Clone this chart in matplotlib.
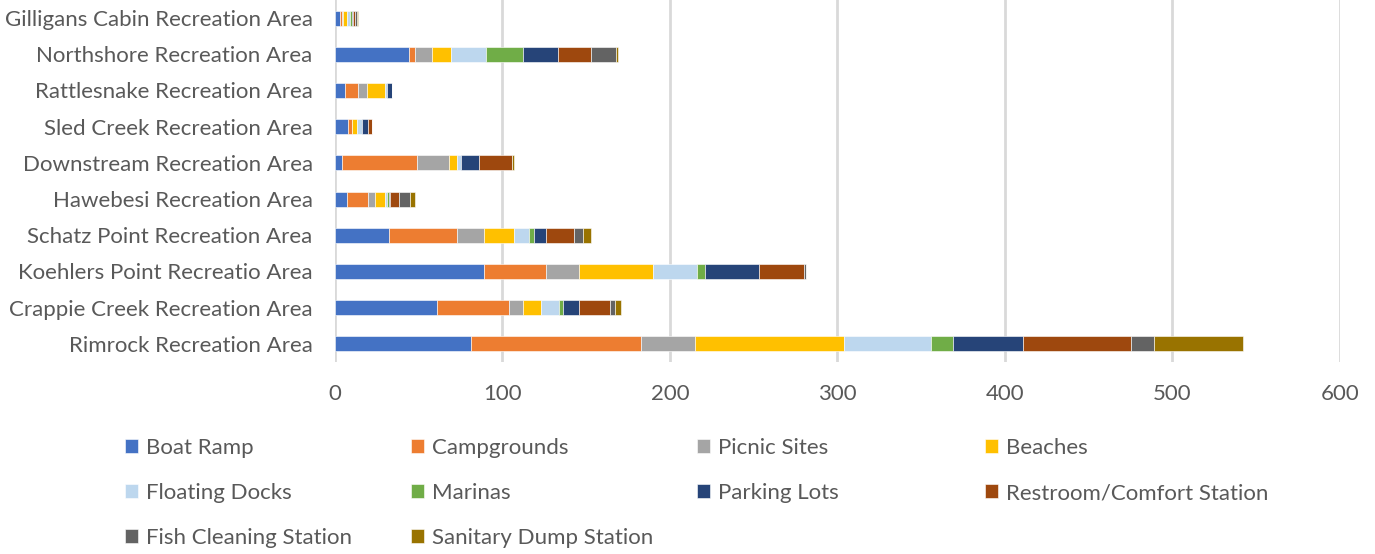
import matplotlib
matplotlib.use("Agg")
import matplotlib.pyplot as plt
import numpy as np

plt.rcParams["font.family"] = ["Lato", "DejaVu Sans"]

areas = ["Rimrock Recreation Area", "Crappie Creek Recreation Area",
         "Koehlers Point Recreatio Area", "Schatz Point Recreation Area",
         "Hawebesi Recreation Area", "Downstream Recreation Area",
         "Sled Creek Recreation Area", "Rattlesnake Recreation Area",
         "Northshore Recreation Area", "Gilligans Cabin Recreation Area"]

# one list per amenity, same order as areas
boat_ramp = [81, 61, 89, 32, 7, 4, 8, 6, 44, 3]
campgrounds = [102, 43, 37, 41, 13, 45, 2, 8, 4, 1]
picnic_sites = [32, 8, 20, 16, 4, 19, 0, 5, 10, 1]
beaches = [89, 11, 44, 18, 6, 5, 3, 11, 11, 2]
floating_docks = [52, 11, 26, 9, 1, 2, 3, 1, 21, 2]
marinas = [13, 2, 5, 3, 1, 0, 0, 0, 22, 1]
parking_lots = [42, 10, 32, 7, 1, 11, 4, 3, 21, 1]
restrooms = [64, 18, 27, 17, 5, 20, 2, 0, 20, 1]
fish_cleaning = [14, 3, 1, 5, 7, 0, 0, 0, 15, 1]
dump_station = [53, 4, 0, 5, 3, 1, 0, 0, 1, 1]

series = [
    ("Boat Ramp", boat_ramp, "#4472C4"),
    ("Campgrounds", campgrounds, "#ED7D31"),
    ("Picnic Sites", picnic_sites, "#A5A5A5"),
    ("Beaches", beaches, "#FFC000"),
    ("Floating Docks", floating_docks, "#BDD7EE"),
    ("Marinas", marinas, "#70AD47"),
    ("Parking Lots", parking_lots, "#264478"),
    ("Restroom/Comfort Station", restrooms, "#9E480E"),
    ("Fish Cleaning Station", fish_cleaning, "#636363"),
    ("Sanitary Dump Station", dump_station, "#997300"),
]

W, H = 1375, 554
fig = plt.figure(figsize=(W / 100, H / 100), dpi=100)
ax = fig.add_axes([0.2436, 0.3466, 0.7309, 0.6534])

y = np.arange(len(areas))
left = np.zeros(len(areas))
for name, vals, col in series:
    vals = np.array(vals, dtype=float)
    ax.barh(y, vals, left=left, height=0.41, color=col, label=name,
            edgecolor="white", linewidth=0.4, zorder=3)
    left += vals

ax.set_xlim(0, 600)
ax.set_ylim(-0.5, len(areas) - 0.5)
ax.set_xticks(range(0, 601, 100))
ax.set_yticks(y)
ax.set_yticklabels(areas)
ax.xaxis.grid(True, color="#D9D9D9", linewidth=2, zorder=0)
for s in ax.spines.values():
    s.set_visible(False)
ax.tick_params(axis="both", length=0, labelsize=16, labelcolor="#595959")
ax.tick_params(axis="x", pad=16)
ax.tick_params(axis="y", pad=16)

# legend laid out row by row, 4 equal columns like the original
handles, labels = ax.get_legend_handles_labels()
col_x = [125, 411, 697, 985]
for c in range(4):
    idx = list(range(c, len(handles), 4))
    leg = fig.legend([handles[i] for i in idx], [labels[i] for i in idx],
                     loc="upper left", bbox_to_anchor=(col_x[c] / W, 1 - 438 / H),
                     frameon=False, fontsize=16, labelcolor="#595959",
                     handlelength=0.6, handleheight=0.6, handletextpad=0.35,
                     labelspacing=1.13, borderpad=0, borderaxespad=0)

fig.savefig("out.png", dpi=100)
